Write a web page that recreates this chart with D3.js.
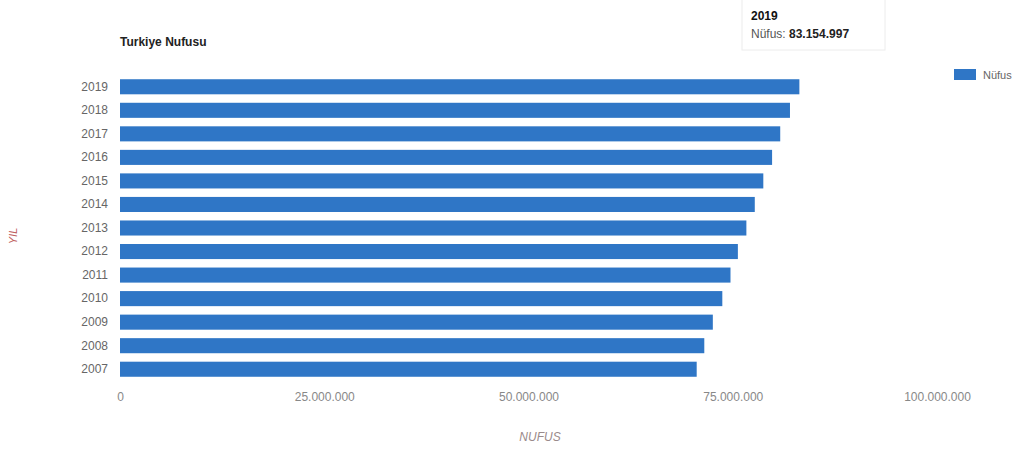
<!DOCTYPE html>
<html>
<head>
<meta charset="utf-8">
<script src="https://cdn.jsdelivr.net/npm/d3@7"></script>
<style>
    body { margin: 0; background: #fff; }
    svg { display: block; font-family: "Liberation Sans", Arial, sans-serif; }
</style>
</head>
<body>
<svg id="chart" width="1031" height="450"></svg>
<script>
// data (TÜİK figures)
const years = ["2019", "2018", "2017", "2016", "2015", "2014", "2013", "2012", "2011", "2010", "2009", "2008", "2007"];
const population = [83154997, 82003882, 80810525, 79814871, 78741053, 77695904, 76667864, 75627384, 74724269, 73722988, 72561312, 71517100, 70586256];
const xTicks = [0, 25000000, 50000000, 75000000, 100000000];

const title = "Turkiye Nufusu";
const seriesName = "Nüfus";
const xTitle = "NUFUS";
const yTitle = "YIL";

const barColor = "#2f76c6";

const svg = d3.select("#chart");
const rows = years.map((y, i) => ({year: y, value: population[i]}));

const x = d3.scaleLinear()
    .domain([0, 100000000])
    .range([120, 937]);

const y = d3.scaleBand()
    .domain(years)
    .range([75, 381])
    .paddingInner(0.36)
    .paddingOuter(0.18);

const fmt = v => d3.format(",")(v).replace(/,/g, ".");

// title
svg.append("text")
    .attr("x", 120)
    .attr("y", 46)
    .attr("font-size", 12)
    .attr("font-weight", "bold")
    .attr("fill", "#222")
    .text(title);

// bars
svg.append("g")
    .selectAll("rect")
    .data(rows)
    .join("rect")
    .attr("x", x(0))
    .attr("y", d => y(d.year))
    .attr("width", d => x(d.value) - x(0))
    .attr("height", y.bandwidth())
    .attr("fill", barColor);

// y axis labels
const yAxis = svg.append("g")
    .attr("transform", `translate(${x(0) - 12},0)`)
    .call(d3.axisLeft(y).tickSize(0).tickPadding(0));
yAxis.select(".domain").remove();
yAxis.selectAll("text")
    .attr("font-size", 12)
    .attr("font-family", "Liberation Sans, Arial, sans-serif")
    .attr("fill", "#666");

// x axis labels
const xAxis = svg.append("g")
    .attr("transform", "translate(0,392)")
    .call(d3.axisBottom(x).tickValues(xTicks).tickSize(0).tickPadding(0).tickFormat(fmt));
xAxis.select(".domain").remove();
xAxis.selectAll("text")
    .attr("font-size", 12)
    .attr("font-family", "Liberation Sans, Arial, sans-serif")
    .attr("fill", "#888");

// axis titles
svg.append("text")
    .attr("x", 540)
    .attr("y", 441)
    .attr("text-anchor", "middle")
    .attr("font-size", 12)
    .attr("font-style", "italic")
    .attr("fill", "#9a8a8a")
    .text(xTitle);

svg.append("text")
    .attr("transform", "translate(17,236) rotate(-90)")
    .attr("text-anchor", "middle")
    .attr("font-size", 11)
    .attr("font-style", "italic")
    .attr("fill", "#c06060")
    .text(yTitle);

// legend
svg.append("rect")
    .attr("x", 954)
    .attr("y", 69)
    .attr("width", 22)
    .attr("height", 11)
    .attr("fill", barColor);
svg.append("text")
    .attr("x", 983)
    .attr("y", 79)
    .attr("font-size", 11)
    .attr("fill", "#666")
    .text(seriesName);

// tooltip for the first row
const tip = rows[0];
const tipG = svg.append("g");
tipG.append("rect")
    .attr("x", 742)
    .attr("y", -2)
    .attr("width", 143)
    .attr("height", 52)
    .attr("fill", "#fff")
    .attr("stroke", "#ececec");
tipG.append("text")
    .attr("x", 751)
    .attr("y", 20)
    .attr("font-size", 12)
    .attr("font-weight", "bold")
    .attr("fill", "#111")
    .text(tip.year);
const tipLine = tipG.append("text")
    .attr("x", 751)
    .attr("y", 38)
    .attr("font-size", 12)
    .attr("fill", "#555");
tipLine.append("tspan").text(seriesName + ": ");
tipLine.append("tspan").attr("font-weight", "bold").attr("fill", "#222").text(fmt(tip.value));
</script>
</body>
</html>
